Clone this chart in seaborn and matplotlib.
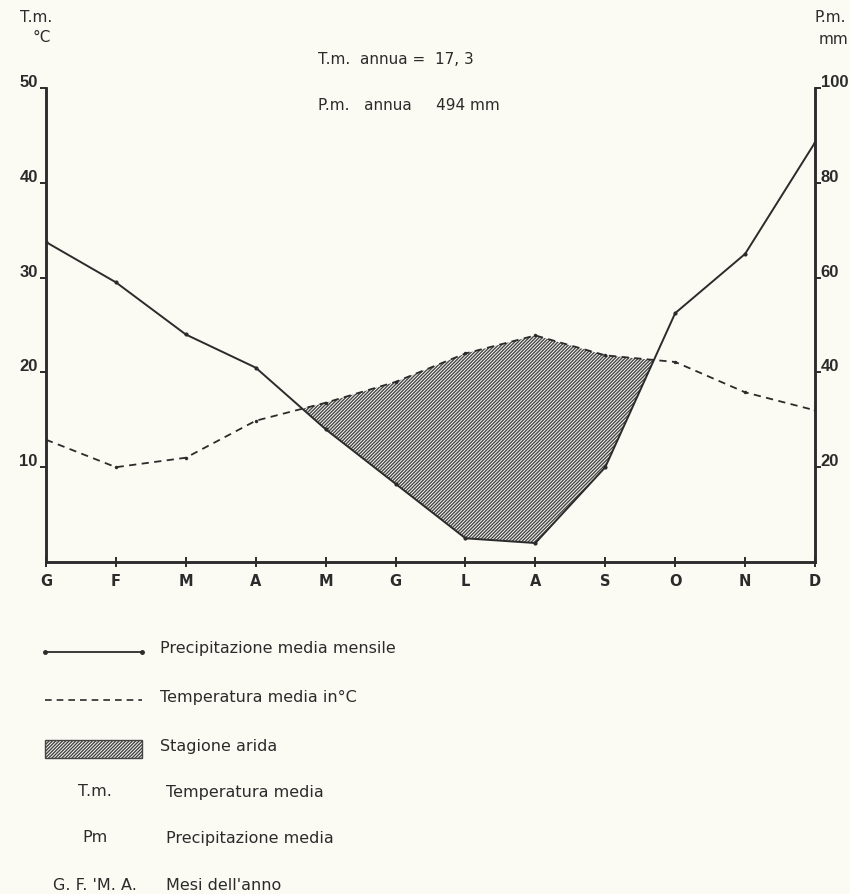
import numpy as np
import pandas as pd
import matplotlib
matplotlib.use("Agg")
import matplotlib.pyplot as plt
import matplotlib.transforms as mtransforms
from matplotlib.patches import Rectangle
from matplotlib.lines import Line2D
import seaborn as sns

# ---- data ----
months = ["G", "F", "M", "A", "M", "G", "L", "A", "S", "O", "N", "D"]
temp_c = [12.9, 10.0, 11.0, 14.9, 16.8, 19.0, 22.0, 23.9, 21.8, 21.1, 17.9, 16.0]
precip_mm = [67.5, 59, 48, 41, 28, 16.5, 5, 4, 20, 52.5, 65, 88.5]
temp_ticks = [10, 20, 30, 40, 50]
precip_ticks = [20, 40, 60, 80, 100]
legend_labels = ["Precipitazione media mensile", "Temperatura media in°C", "Stagione arida"]
abbrev_rows = [("T.m.", "Temperatura media"), ("Pm", "Precipitazione media"),
               ("G. F. 'M. A.", "Mesi dell'anno")]

sns.set_theme(style="white")
plt.rcParams["font.family"] = ["DejaVu Sans"]
plt.rcParams["hatch.linewidth"] = 1.0
ink = "#2b2b2b"
bg = "#fbfbf4"

fig = plt.figure(figsize=(8.5, 8.94), dpi=100, facecolor=bg)
ax = fig.add_axes([46/850, 1-562/894, (815-46)/850, (562-88)/894])
ax.set_facecolor(bg)

df = pd.DataFrame({"x": np.arange(len(months)), "temp": temp_c,
                   "precip": precip_mm})
df["precip_half"] = df["precip"] / 2.0

# dry season fill (temperature above precipitation/2)
ax.fill_between(df["x"], df["temp"], df["precip_half"],
                where=df["temp"] >= df["precip_half"], interpolate=True,
                facecolor="none", edgecolor="#474747", hatch="//////////",
                linewidth=0)

sns.lineplot(data=df, x="x", y="temp", ax=ax, color=ink, linewidth=1.3,
             linestyle=(0, (4, 3)), marker="o", markersize=2.5,
             markeredgewidth=0)

ax2 = ax.twinx()
sns.lineplot(data=df, x="x", y="precip", ax=ax2, color=ink, linewidth=1.4,
             marker="o", markersize=3, markeredgewidth=0)

ax.set_xlim(0, len(months) - 1)
ax.set_ylim(0, 50)
ax2.set_ylim(0, 100)

for a in (ax, ax2):
    a.set_xlabel("")
    a.set_ylabel("")
    for s in a.spines.values():
        s.set_color(ink)
        s.set_linewidth(1.8)
    a.spines["top"].set_visible(False)

ax.set_xticks(df["x"])
ax.set_xticklabels(months)
ax.set_yticks(temp_ticks)
ax2.set_yticks(precip_ticks)
ax.tick_params(axis="x", direction="inout", length=7, width=1.4, color=ink,
               labelsize=10.5, labelcolor=ink, pad=5, bottom=True)
ax.tick_params(axis="y", direction="out", length=4, width=1.4, color=ink,
               labelcolor=ink, pad=2, left=True)
ax2.tick_params(axis="y", direction="out", length=4, width=1.4, color=ink,
                labelcolor=ink, pad=0, right=True)
for lab in ax.get_xticklabels():
    lab.set_fontweight("bold")
for lab in ax.get_yticklabels() + ax2.get_yticklabels():
    lab.set_fontweight("bold")
    lab.set_fontfamily("Liberation Sans")
    lab.set_fontsize(12)
offset = mtransforms.ScaledTranslation(0, 5/72, fig.dpi_scale_trans)
for lab in ax.get_yticklabels() + ax2.get_yticklabels():
    lab.set_transform(lab.get_transform() + offset)

# header texts
fs = 11
fig.text(20/850, 1-18/894, "T.m.", fontsize=fs, color=ink, va="center")
fig.text(32/850, 1-38/894, "°C", fontsize=fs, color=ink, va="center")
fig.text(846/850, 1-18/894, "P.m.", fontsize=fs, color=ink, va="center", ha="right")
fig.text(848/850, 1-40/894, "mm", fontsize=fs, color=ink, va="center", ha="right")
fig.text(318/850, 1-60/894, "T.m.  annua =  17, 3", fontsize=fs, color=ink, va="center")
fig.text(318/850, 1-106/894, "P.m.   annua     494 mm", fontsize=fs, color=ink, va="center")

# legend area
def fy(y):
    return 1 - y/894

x0, x1, xt = 45/850, 142/850, 160/850
fs2 = 11.5
fig.add_artist(Line2D([x0, x1], [fy(652), fy(652)], color=ink, lw=1.3,
                      marker="o", markersize=2.5, markevery=[0, 1],
                      transform=fig.transFigure))
fig.text(xt, fy(649), legend_labels[0], fontsize=fs2, color=ink, va="center")
fig.add_artist(Line2D([x0, x1], [fy(700), fy(700)], color=ink, lw=1.2,
                      linestyle=(0, (4, 3)), transform=fig.transFigure))
fig.text(xt, fy(697), legend_labels[1], fontsize=fs2, color=ink, va="center")
fig.add_artist(Rectangle((x0, fy(758)), x1 - x0, (758-740)/894,
                         transform=fig.transFigure, facecolor="none",
                         edgecolor="#444444", hatch="//////////", lw=1.0))
fig.text(xt, fy(746), legend_labels[2], fontsize=fs2, color=ink, va="center")
for (ab, desc), y in zip(abbrev_rows, [792, 838, 885]):
    fig.text(95/850, fy(y), ab, fontsize=fs2, color=ink, va="center", ha="center")
    fig.text(xt + 6/850, fy(y), desc, fontsize=fs2, color=ink, va="center")

fig.savefig("out.png", dpi=100, facecolor=bg)
